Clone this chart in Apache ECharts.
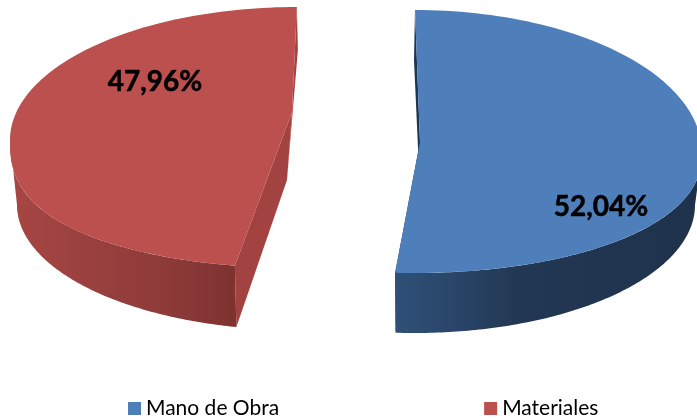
<!DOCTYPE html>
<html><head><meta charset="utf-8">
<style>html,body{margin:0;padding:0;background:#fff}#c{width:697px;height:419px}</style>
<script src="https://cdn.jsdelivr.net/npm/echarts@6/dist/echarts.min.js"></script>
</head><body><div id="c"></div>
<script>
const categories = ['Mano de Obra', 'Materiales'];
const values = [52.04, 47.96];
const topColors = ['#4e7fbb', '#bb504e'];
const innerColors = ['#1c3555', '#a34341'];
const wallStops = [
  [[395, '#2f5077'], [450, '#2a466a'], [520, '#223753'], [697, '#1f324c']],
  [[18, '#a54643'], [100, '#97403e'], [160, '#8e3b39'], [235, '#7e3331']]
];
const layout = [
  {apex: [420, 142], apexLow: [420, 192], farDrop: [-1, 50], start: 0, sweepScale: 0.982, nearIsEnd: true,
   top: {cx: 415, cy: 153, rx: 287, ryFar: 143, ryNear: 120, power: 0.9},
   low: {cx: 415, cy: 205, rx: 280, ry: 128}, wallRange: [90, null], label: [601, 207]},
  {apex: [292, 112], apexLow: [287, 180], farDrop: [1, 43], start: 192.5, sweepScale: 0.97, nearIsEnd: false,
   top: {cx: 297, cy: 140, rx: 287, ryFar: 133, ryNear: 128, power: 0.78},
   low: {cx: 297, cy: 205, rx: 280, ry: 125}, wallRange: [null, 270], label: [155, 82]}
];
const STEPS = 120;
const rad = d => d * Math.PI / 180;
function upperPoint(g, deg) {
  const c = Math.cos(rad(deg)), s = Math.sin(rad(deg)), t = g.top;
  const y = c >= 0 ? t.cy - t.ryFar * c : t.cy + t.ryNear * Math.pow(-c, t.power);
  return [t.cx + t.rx * s, y];
}
function lowerPoint(g, deg) {
  const l = g.low;
  return [l.cx + l.rx * Math.sin(rad(deg)), l.cy - l.ry * Math.cos(rad(deg))];
}
function arc(fn, g, a, b) {
  const pts = [];
  for (let i = 0; i <= STEPS; i++) pts.push(fn(g, a + (b - a) * i / STEPS));
  return pts;
}
function renderSlice(idx) {
  return function (params, api) {
    const g = layout[idx];
    const value = api.value(0);
    const span = value / values.reduce((a, b) => a + b, 0) * 360 * g.sweepScale;
    const a0 = g.start, a1 = g.start + span;
    const far = g.nearIsEnd ? a0 : a1, near = g.nearIsEnd ? a1 : a0;
    const farTop = upperPoint(g, far);
    const wallA = g.wallRange[0] === null ? a0 : g.wallRange[0];
    const wallB = g.wallRange[1] === null ? a1 : g.wallRange[1];
    const x0 = wallStops[idx][0][0], x1 = wallStops[idx][wallStops[idx].length - 1][0];
    const grad = new echarts.graphic.LinearGradient(x0, 0, x1, 0,
      wallStops[idx].map(s => ({offset: (s[0] - x0) / (x1 - x0), color: s[1]})), true);
    const inner = {fill: innerColors[idx]};
    return {
      type: 'group',
      children: [
        {type: 'polygon', shape: {points: [g.apex, farTop, [farTop[0] + g.farDrop[0], farTop[1] + g.farDrop[1]], g.apexLow]}, style: inner},
        {type: 'polygon', shape: {points: [g.apex, upperPoint(g, near), lowerPoint(g, near), g.apexLow]}, style: inner},
        {type: 'polygon', shape: {points: arc(upperPoint, g, wallA, wallB).concat(arc(lowerPoint, g, wallB, wallA))}, style: {fill: grad}},
        {type: 'polygon', shape: {points: [g.apex].concat(arc(upperPoint, g, a0, a1))}, style: {fill: topColors[idx]}},
        {type: 'text', style: {
          x: g.label[0], y: g.label[1], text: value.toFixed(2).replace('.', ',') + '%',
          font: 'bold 28px Lato', fill: '#000', stroke: '#000', lineWidth: 0.5, align: 'center', verticalAlign: 'middle'
        }}
      ]
    };
  };
}
const chart = echarts.init(document.getElementById('c'), null, {renderer: 'canvas'});
chart.setOption({
  animation: false,
  backgroundColor: '#fff',
  legend: {
    data: categories, left: 128, top: 398, itemWidth: 13, itemHeight: 13, itemGap: 205,
    icon: 'rect', padding: 0,
    textStyle: {fontFamily: 'Lato', fontSize: 21, color: '#000'}
  },
  series: categories.map((name, i) => ({
    type: 'custom', name, coordinateSystem: 'none',
    itemStyle: {color: topColors[i]},
    data: [[values[i]]],
    renderItem: renderSlice(i)
  }))
});
</script></body></html>
